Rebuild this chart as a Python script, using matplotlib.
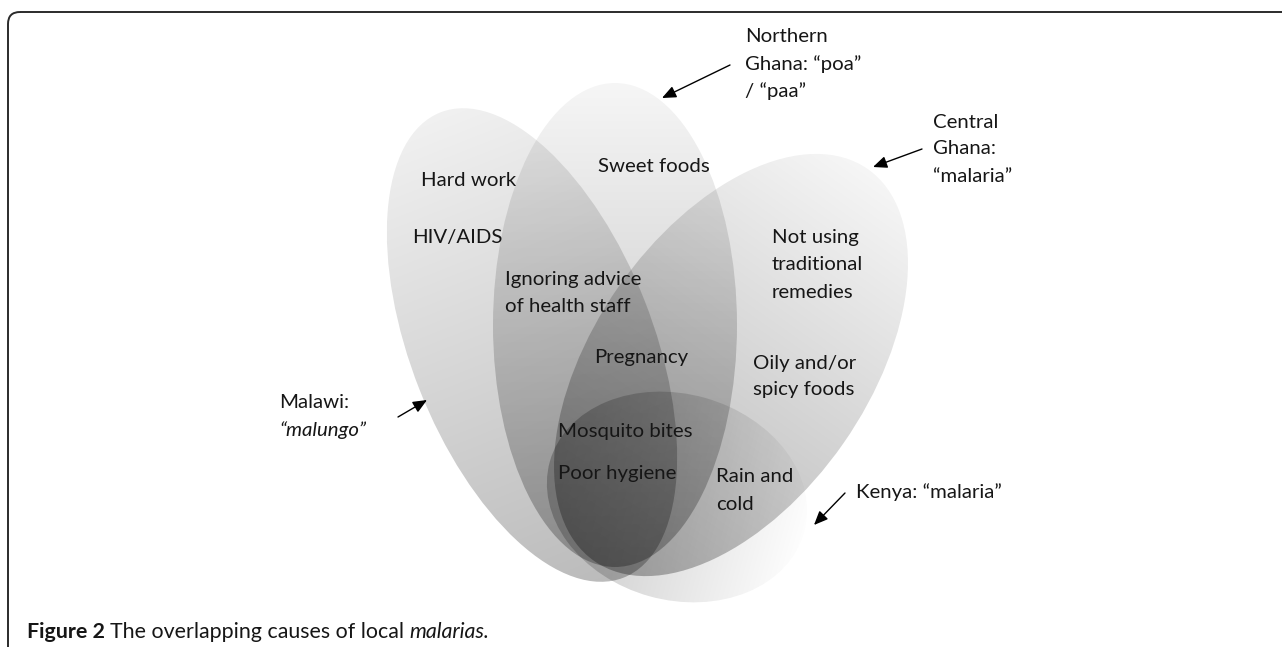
import numpy as np
import matplotlib
matplotlib.use("Agg")
import matplotlib.pyplot as plt
from matplotlib.patches import Ellipse, FancyBboxPatch

W, H = 1282, 647
FONT = "Lato"

# ellipses (pixel space, y down): centre, width, height, angle
sets = ["Malawi", "Northern Ghana", "Central Ghana", "Kenya"]
centres = [(532, 345), (615, 325), (731, 365), (677, 497)]
widths = [242, 244, 274, 264]
heights = [500, 484, 478, 206]
angles = [-21.5, 0.0, 34.9, 15.6]
# direction (deg, y down) towards the dark end of each gradient, alpha range
shade_dir = [68.5, 90.0, 124.9, 195.6]
alpha_lo = [0.06, 0.04, 0.04, 0.01]
alpha_hi = [0.27, 0.28, 0.30, 0.24]

# causes written inside the diagram
causes = [["Sweet foods"], ["Hard work"], ["HIV/AIDS"],
          ["Ignoring advice", "of health staff"], ["Pregnancy"],
          ["Mosquito bites"], ["Poor hygiene"], ["Rain and", "cold"],
          ["Not using", "traditional", "remedies"],
          ["Oily and/or", "spicy foods"]]
cause_xy = [(598, 166), (421, 180), (412, 238), (505, 280), (594, 357),
            (558, 431), (558, 474), (716, 477), (772, 238), (753, 363)]

# set names with arrows
set_labels = [["Malawi:", "\u201cmalungo\u201d"],
              ["Northern", "Ghana: \u201cpoa\u201d", "/ \u201cpaa\u201d"],
              ["Central", "Ghana:", "\u201cmalaria\u201d"],
              ["Kenya: \u201cmalaria\u201d"]]
set_label_xy = [(279, 403), (745, 37), (933, 122), (856, 492)]
arrow_tail = [(398, 417), (730, 65), (922, 149), (845, 493)]
arrow_head = [(427, 400), (662, 98), (873, 167), (814, 525)]

line_step = 27

fig = plt.figure(figsize=(W / 100, H / 100), dpi=100)
ax = fig.add_axes([0, 0, 1, 1])
ax.set_xlim(0, W)
ax.set_ylim(H, 0)
ax.axis("off")

# frame
frame = FancyBboxPatch((8, 12), 1400, 800, boxstyle="round,pad=0,rounding_size=12",
                       facecolor="none", edgecolor="#2b2b2b", lw=1.4, zorder=1)
ax.add_patch(frame)


def shaded_ellipse(c, w, h, ang, d, a0, a1):
    e = Ellipse(c, w, h, angle=ang, facecolor="none", edgecolor="none")
    ax.add_patch(e)
    r = max(w, h) / 2 + 2
    n = 400
    xs = np.linspace(c[0] - r, c[0] + r, n)
    ys = np.linspace(c[1] - r, c[1] + r, n)
    X, Y = np.meshgrid(xs, ys)
    ux, uy = np.cos(np.radians(d)), np.sin(np.radians(d))
    e1 = np.array([np.cos(np.radians(ang)), np.sin(np.radians(ang))])
    e2 = np.array([-np.sin(np.radians(ang)), np.cos(np.radians(ang))])
    support = np.hypot(w / 2 * (ux * e1[0] + uy * e1[1]), h / 2 * (ux * e2[0] + uy * e2[1]))
    t = ((X - c[0]) * ux + (Y - c[1]) * uy) / support
    t = np.clip((t + 1) / 2, 0, 1)
    rgba = np.zeros((n, n, 4))
    rgba[..., 3] = a0 + (a1 - a0) * t
    im = ax.imshow(rgba, extent=(c[0] - r, c[0] + r, c[1] + r, c[1] - r),
                   origin="upper", interpolation="bilinear", aspect="auto", zorder=2)
    im.set_clip_path(e)


for i in range(len(sets)):
    shaded_ellipse(centres[i], widths[i], heights[i], angles[i],
                   shade_dir[i], alpha_lo[i], alpha_hi[i])

ax.set_xlim(0, W)
ax.set_ylim(H, 0)

fs = 14.7
for lines, (x, y) in zip(causes, cause_xy):
    for k, s in enumerate(lines):
        ax.text(x, y + k * line_step, s, fontsize=fs, family=FONT, color="#161616",
                ha="left", va="center", zorder=5)

for i, (lines, (x, y)) in enumerate(zip(set_labels, set_label_xy)):
    for k, s in enumerate(lines):
        style = "italic" if (i == 0 and k == 1) else "normal"
        ax.text(x, y + k * line_step, s, fontsize=fs, family=FONT, style=style,
                color="#161616", ha="left", va="center", zorder=5)
    ax.annotate("", xy=arrow_head[i], xytext=arrow_tail[i],
                arrowprops=dict(arrowstyle="-|>,head_length=0.7,head_width=0.3",
                                color="black", lw=1.0, shrinkA=0, shrinkB=0,
                                mutation_scale=12), zorder=6)

# caption made of bold / regular / italic pieces
fig.canvas.draw()
renderer = fig.canvas.get_renderer()
pieces = [("Figure 2 ", "bold", "normal"),
          ("The overlapping causes of local ", "normal", "normal"),
          ("malarias.", "normal", "italic")]
x = 27
for s, wt, st in pieces:
    t = ax.text(x, 632, s, fontsize=15.4, family=FONT, weight=wt, style=st,
                color="#161616", ha="left", va="center", zorder=5)
    bb = t.get_window_extent(renderer=renderer)
    x += bb.width

fig.savefig("out.png", dpi=100)
